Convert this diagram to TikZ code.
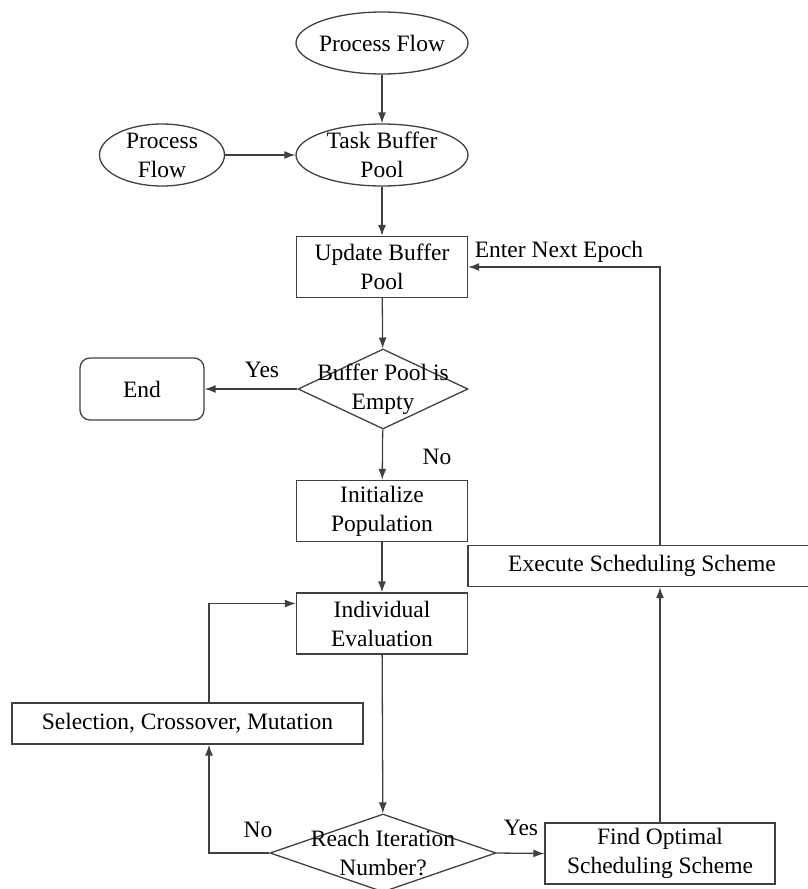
\documentclass[tikz,border=0pt]{standalone}
\usepackage{fontspec}
\setmainfont{Liberation Serif}
\usetikzlibrary{shapes.geometric,arrows.meta}
\begin{document}
\begin{tikzpicture}[x=1pt,y=-1pt,
  font=\fontsize{23.5}{29}\selectfont,
  every node/.style={inner sep=0pt, align=center, text=black},
  base/.style={draw=black!75, line width=1.3pt},
  ell/.style={base, ellipse, minimum width=172pt, minimum height=62pt},
  box/.style={base, rectangle, minimum width=171pt, minimum height=61pt},
  dia/.style={base, diamond, minimum width=170pt, minimum height=80pt},
  endbox/.style={base, rectangle, rounded corners=10pt, minimum width=124pt, minimum height=62pt},
  arr/.style={draw=black!75, line width=1.3pt, -{Latex[length=11pt,width=8pt]}},
  lbl/.style={font=\fontsize{23.5}{29}\selectfont}
]
\useasboundingbox (0,0) rectangle (808,889);

% nodes
\node[ell, label={[lbl]center:{Process Flow}}] (pf1) at (382,43) {};
\node[ell, minimum width=125pt, label={[lbl,align=center]center:{Process\\Flow}}] (pf2) at (162,155) {};
\node[ell, label={[lbl,align=center]center:{Task Buffer\\Pool}}] (tbp) at (382,155) {};
\node[box] (upd) at (382,267) {Update Buffer\\Pool};
\node[dia, label={[lbl,align=center]center:{Buffer Pool is\\Empty}}] (d1) at (383,389) {};
\node[endbox] (end) at (142,389) {End};
\node[box] (init) at (382,511) {Initialize\\Population};
\node[box, minimum width=348pt, minimum height=41pt] (exe) at (642,566) {Execute Scheduling Scheme};
\node[box] (ind) at (382,623.5) {Individual\\Evaluation};
\node[box, minimum width=351pt, minimum height=41pt] (sel) at (187.5,723.5) {Selection, Crossover, Mutation};
\node[dia, minimum width=226pt, minimum height=78pt, label={[lbl,align=center]center:{Reach Iteration\\Number?}}] (d2) at (383,853) {};
\node[box, minimum width=230pt] (find) at (660,853.5) {Find Optimal\\Scheduling Scheme};

% labels
\node (yes1) at (262,370) {Yes};
\node (no1) at (437,457) {No};
\node (yes2) at (521,828) {Yes};
\node (no2) at (258,830) {No};
\node (epoch) at (559,252) {Enter Next Epoch};

% helper coordinates
\coordinate (selx) at ([xshift=21.5pt]sel.south);
\coordinate (selt) at ([xshift=21.5pt]sel.north);
\coordinate (indin) at ([yshift=20pt]ind.west);

% connectors
\draw[arr] (pf1) -- (tbp);
\draw[arr] (pf2) -- (tbp);
\draw[arr] (tbp) -- (upd);
\draw[arr] (upd) -- (d1);
\draw[arr] (d1) -- (end);
\draw[arr] (d1) -- (init);
\draw[arr] (init) -- (ind);
\draw[arr] (ind) -- (d2);
\draw[arr] (d2.west) -| (selx);
\draw[arr] (selt) |- (indin);
\draw[arr] (d2.east) -- (find.west);
\draw[arr] (find.north) -- (find.north |- exe.south);
\draw[arr] (find.north |- exe.north) |- (upd.east);
\end{tikzpicture}
\end{document}
